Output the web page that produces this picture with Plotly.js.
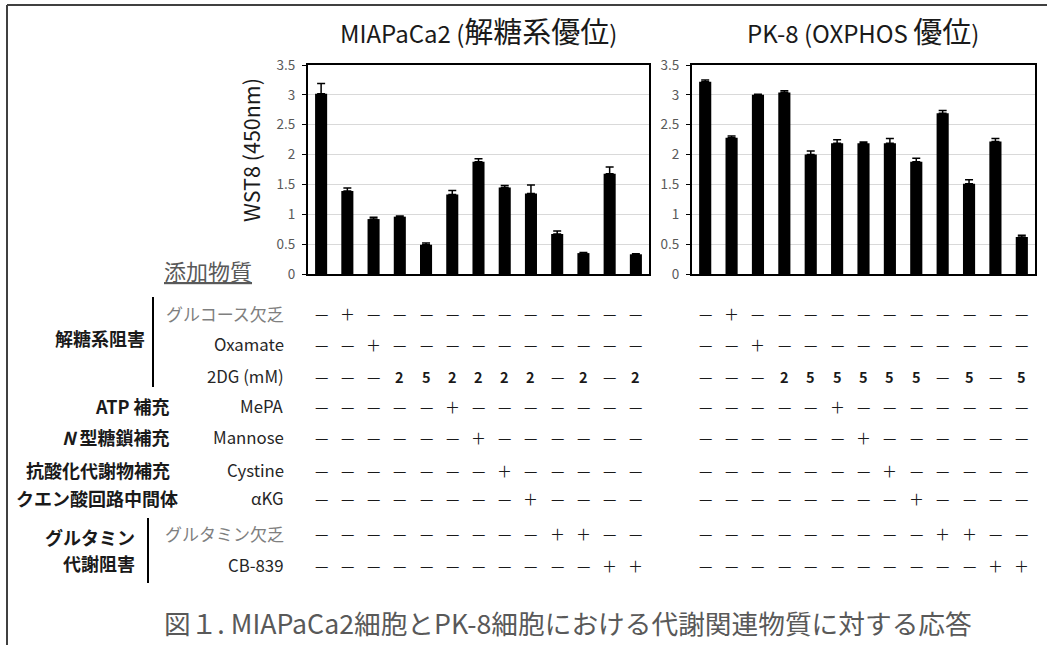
<!DOCTYPE html>
<html><head><meta charset="utf-8">
<script src="https://cdn.plot.ly/plotly-3.0.1.min.js"></script>
<style>html,body{margin:0;padding:0;background:#fff}</style>
</head><body>
<div id="chart" style="width:1047px;height:645px"></div>
<script>
// ---------- data ----------
const miaCats = ['対照','グルコース欠乏','Oxamate','2DG 2mM','2DG 5mM','2DG+MePA','2DG+Mannose','2DG+Cystine','2DG+αKG','グルタミン欠乏','グルタミン欠乏+2DG','CB-839','CB-839+2DG'];
const pkCats  = ['対照 ','グルコース欠乏 ','Oxamate ','2DG 2mM ','2DG 5mM ','2DG+MePA ','2DG+Mannose ','2DG+Cystine ','2DG+αKG ','グルタミン欠乏 ','グルタミン欠乏+2DG ','CB-839 ','CB-839+2DG '];
const miaValues = [3.02, 1.39, 0.92, 0.96, 0.49, 1.33, 1.88, 1.45, 1.35, 0.67, 0.35, 1.68, 0.33];
const miaErrors = [0.17, 0.05, 0.03, 0.01, 0.03, 0.07, 0.05, 0.03, 0.14, 0.05, 0.01, 0.11, 0.01];
const pkValues  = [3.22, 2.28, 3.00, 3.04, 2.00, 2.19, 2.19, 2.19, 1.88, 2.69, 1.51, 2.22, 0.62];
const pkErrors  = [0.03, 0.03, 0.01, 0.03, 0.06, 0.06, 0.02, 0.08, 0.06, 0.05, 0.07, 0.05, 0.03];
const yTicks = [0, 0.5, 1, 1.5, 2, 2.5, 3, 3.5];
const rowLabels = ['グルコース欠乏','Oxamate','2DG (mM)','MePA','Mannose','Cystine','αKG','グルタミン欠乏','CB-839'];
const rowGray = [true,false,false,false,false,false,false,true,false];
const miaMarks = [
  ['-','+','-','-','-','-','-','-','-','-','-','-','-'],
  ['-','-','+','-','-','-','-','-','-','-','-','-','-'],
  ['-','-','-','2','5','2','2','2','2','-','2','-','2'],
  ['-','-','-','-','-','+','-','-','-','-','-','-','-'],
  ['-','-','-','-','-','-','+','-','-','-','-','-','-'],
  ['-','-','-','-','-','-','-','+','-','-','-','-','-'],
  ['-','-','-','-','-','-','-','-','+','-','-','-','-'],
  ['-','-','-','-','-','-','-','-','-','+','+','-','-'],
  ['-','-','-','-','-','-','-','-','-','-','-','+','+']
];
const pkMarks = [
  ['-','+','-','-','-','-','-','-','-','-','-','-','-'],
  ['-','-','+','-','-','-','-','-','-','-','-','-','-'],
  ['-','-','-','2','5','5','5','5','5','-','5','-','5'],
  ['-','-','-','-','-','+','-','-','-','-','-','-','-'],
  ['-','-','-','-','-','-','+','-','-','-','-','-','-'],
  ['-','-','-','-','-','-','-','+','-','-','-','-','-'],
  ['-','-','-','-','-','-','-','-','+','-','-','-','-'],
  ['-','-','-','-','-','-','-','-','-','+','+','-','-'],
  ['-','-','-','-','-','-','-','-','-','-','-','+','+']
];
const groupLabels = ['解糖系阻害','ATP 補充','<i>N</i> 型糖鎖補充','抗酸化代謝物補充','クエン酸回路中間体','グルタミン','代謝阻害'];
const titleLeft = 'MIAPaCa2 (<span style="font-size:29px">解糖系優位</span>)';
const titleRight = 'PK-8 (OXPHOS <span style="font-size:29px">優位</span>)';
const caption = '図１. MIAPaCa2細胞とPK-8細胞における代謝関連物質に対する応答';

// ---------- layout helpers ----------
const W = 1047, H = 645;
const px = x => x / W;
const py = y => 1 - y / H;
const FONT = 'Noto Sans CJK JP, Noto Sans, sans-serif';

const rowY = [313, 344, 376, 406, 437, 470, 498, 533, 565];
const groupPos = [[147,338],[172,406],[172,437],[172,470],[180,498],[137,537],[137,563]];

const barStyle = {color:'#000'};
const errStyle = v => ({type:'data', array:v, arrayminus:v.map(()=>0), symmetric:false, color:'#000', thickness:1.5, width:4});

const traces = [
  {type:'bar', x:miaCats, y:miaValues, error_y:errStyle(miaErrors), marker:barStyle, xaxis:'x', yaxis:'y', hoverinfo:'skip'},
  {type:'bar', x:pkCats, y:pkValues, error_y:errStyle(pkErrors), marker:barStyle, xaxis:'x2', yaxis:'y2', hoverinfo:'skip'}
];

const yAx = {
  range:[0,3.5], tickvals:yTicks, showgrid:true, gridcolor:'#d9d9d9', gridwidth:1, zeroline:false,
  showline:true, linecolor:'#000', linewidth:2, mirror:true, ticks:'outside', ticklen:4, tickcolor:'#000',
  ticklabelstandoff:4,
  tickfont:{size:13.5, color:'#595959', family:FONT}, domain:[py(274), py(65)], fixedrange:true
};
const xAx = {
  type:'category', showticklabels:false, ticks:'', showline:true, linecolor:'#000', linewidth:2, mirror:true,
  showgrid:false, zeroline:false, fixedrange:true
};

const annotations = [];
// titles
annotations.push({xref:'paper', yref:'paper', x:px(478), y:py(30), text:titleLeft, showarrow:false, xanchor:'center', yanchor:'middle', font:{size:24, color:'#1a1a1a', family:FONT}});
annotations.push({xref:'paper', yref:'paper', x:px(863), y:py(30), text:titleRight, showarrow:false, xanchor:'center', yanchor:'middle', font:{size:24, color:'#1a1a1a', family:FONT}});
// y axis title
annotations.push({xref:'paper', yref:'paper', x:px(251), y:py(150), text:'WST8 (450nm)', textangle:-90, showarrow:false, xanchor:'center', yanchor:'middle', font:{size:21.5, color:'#1a1a1a', family:FONT}});
// 添加物質
annotations.push({xref:'paper', yref:'paper', x:px(208), y:py(270), text:'添加物質', showarrow:false, xanchor:'center', yanchor:'middle', font:{size:22, color:'#595959', family:FONT, lineposition:'under'}});
// row labels
rowLabels.forEach((t,i)=>{
  annotations.push({xref:'paper', yref:'paper', x:px(286), y:py(rowY[i]), text:t, showarrow:false, xanchor:'right', yanchor:'middle',
    font:{size: rowGray[i]?17:16.8, color: rowGray[i]?'#7f7f7f':'#262626', family:FONT}});
});
// group labels
groupLabels.forEach((t,i)=>{
  annotations.push({xref:'paper', yref:'paper', x:px(groupPos[i][0]), y:py(groupPos[i][1]), text:'<b>'+t+'</b>', showarrow:false, xanchor:'right', yanchor:'middle',
    font:{size:18, color:'#1a1a1a', family:FONT}});
});
// marks
function addMarks(marks, cats, xref){
  marks.forEach((row,i)=>{
    row.forEach((m,j)=>{
      let text, size = 15;
      if(m==='-') text='—';
      else if(m==='+') text='＋';
      else { text='<b>'+m+'</b>'; size=14.5; }
      annotations.push({xref:xref, yref:'paper', x:cats[j], y:py(rowY[i]), text:text, showarrow:false, xanchor:'center', yanchor:'middle',
        font:{size:size, color:'#1a1a1a', family:FONT}});
    });
  });
}
addMarks(miaMarks, miaCats, 'x');
addMarks(pkMarks, pkCats, 'x2');
// caption
annotations.push({xref:'paper', yref:'paper', x:px(568), y:py(622), text:caption, showarrow:false, xanchor:'center', yanchor:'middle', font:{size:26.7, color:'#595959', family:FONT}});

const shapes = [
  {type:'line', xref:'paper', yref:'paper', x0:px(7), x1:px(7), y0:py(5), y1:py(645), line:{color:'#404040', width:2}},
  {type:'line', xref:'paper', yref:'paper', x0:px(7), x1:px(1047), y0:py(5), y1:py(5), line:{color:'#404040', width:2}},
  {type:'line', xref:'paper', yref:'paper', x0:px(153), x1:px(153), y0:py(297), y1:py(387), line:{color:'#000', width:2}},
  {type:'line', xref:'paper', yref:'paper', x0:px(148), x1:px(148), y0:py(518), y1:py(583), line:{color:'#000', width:2}}
];

const layout = {
  width:W, height:H, margin:{l:0,r:0,t:0,b:0}, paper_bgcolor:'#fff', plot_bgcolor:'#fff',
  showlegend:false, bargap:0.54,
  xaxis:Object.assign({}, xAx, {domain:[px(308), px(649)], anchor:'y'}),
  yaxis:Object.assign({}, yAx, {anchor:'x'}),
  xaxis2:Object.assign({}, xAx, {domain:[px(692), px(1035)], anchor:'y2'}),
  yaxis2:Object.assign({}, yAx, {anchor:'x2'}),
  annotations:annotations, shapes:shapes, font:{family:FONT}
};
Plotly.newPlot('chart', traces, layout, {staticPlot:true, displayModeBar:false});
</script>
</body></html>
